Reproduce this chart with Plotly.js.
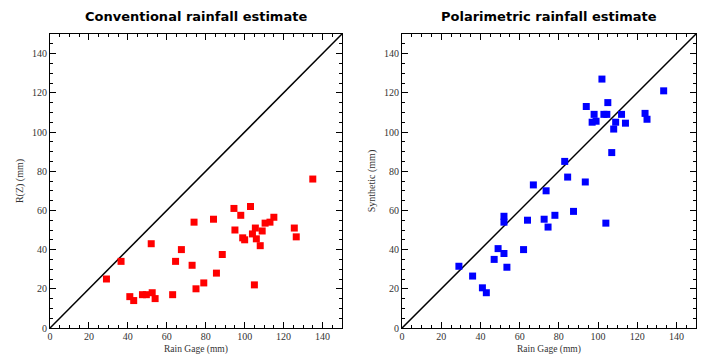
<!DOCTYPE html>
<html>
<head>
<meta charset="utf-8">
<script src="https://cdn.plot.ly/plotly-3.0.1.min.js"></script>
<style>html,body{margin:0;padding:0;background:#fff;}#chart{width:701px;height:354px;}</style>
</head>
<body>
<div id="chart"></div>
<script>
// Conventional R(Z) estimate vs rain gage
const convGage = [29, 36.5, 41, 43, 47.5, 49.5, 52.5, 54, 52, 63, 64.5, 67.5, 73, 74, 75, 79, 84, 85.5, 88.5, 94.5, 95, 98, 99, 100, 103, 104, 105.5, 106, 105, 108, 109, 110.5, 113, 115, 125.5, 126.5, 135];
const convEst  = [25, 34, 16, 14, 17, 17, 18, 15, 43, 17, 34, 40, 32, 54, 20, 23, 55.5, 28, 37.5, 61, 50, 57.5, 46, 45, 62, 48, 51, 45.5, 22, 42, 49.5, 53.5, 54, 56.5, 51, 46.5, 76];
// Polarimetric synthetic estimate vs rain gage
const polGage = [29, 36, 41, 43, 47, 49, 52, 52, 52, 53.5, 62, 64, 67, 72.5, 73.5, 74.5, 78, 83, 84.5, 87.5, 93.5, 94, 97, 98, 99, 102, 103, 104, 104.5, 105, 107, 108, 109, 112, 114, 124, 125, 133.5];
const polEst  = [31.5, 26.5, 20.5, 18, 35, 40.5, 57, 54, 38, 31, 40, 55, 73, 55.5, 70, 51.5, 57.5, 85, 77, 59.5, 74.5, 113, 105, 109, 105.5, 127, 109, 53.5, 109, 115, 89.5, 101.5, 105, 109, 104.5, 109.5, 106.5, 121];
const oneToOne = [0, 150];
const titles = ["Conventional rainfall estimate", "Polarimetric rainfall estimate"];
const xLabel = "Rain Gage (mm)";
const yLabels = ["R(Z) (mm)", "Synthetic (mm)"];
const tickVals = [0, 20, 40, 60, 80, 100, 120, 140];

const serif = "Liberation Serif, Times New Roman, serif";
const markerStyle = (c) => ({symbol: "square", size: 7, color: c});

const traces = [
  {x: oneToOne, y: oneToOne, xaxis: "x", yaxis: "y", mode: "lines", line: {color: "#000", width: 1.5}, hoverinfo: "skip"},
  {x: convGage, y: convEst, xaxis: "x", yaxis: "y", mode: "markers", marker: markerStyle("#ff0000")},
  {x: oneToOne, y: oneToOne, xaxis: "x2", yaxis: "y2", mode: "lines", line: {color: "#000", width: 1.5}, hoverinfo: "skip"},
  {x: polGage, y: polEst, xaxis: "x2", yaxis: "y2", mode: "markers", marker: markerStyle("#0000ff")}
];

function ax(extra) {
  return Object.assign({
    range: [0, 150], tickvals: tickVals, ticks: "inside", ticklen: 6, tickwidth: 1, tickcolor: "#000",
    showline: true, linecolor: "#000", linewidth: 1, mirror: "allticks", showgrid: false, zeroline: false,
    minor: {dtick: 5, tick0: 0, ticks: "inside", ticklen: 3, tickcolor: "#000", showgrid: false},
    tickfont: {family: serif, size: 10, color: "#333"}, automargin: false
  }, extra);
}

const titleFont = {family: "DejaVu Sans, Arial, sans-serif", size: 13, color: "#000"};
const labFont = {family: serif, size: 10, color: "#333"};
const xLabFont = {family: serif, size: 9.5, color: "#333"};

const layout = {
  width: 701, height: 354,
  margin: {l: 50, r: 5, t: 34, b: 26},
  paper_bgcolor: "#fff", plot_bgcolor: "#fff",
  showlegend: false,
  xaxis: ax({domain: [0, 0.452], anchor: "y", ticklabelstandoff: -1}),
  yaxis: ax({domain: [0, 1], anchor: "x", title: {text: yLabels[0], font: labFont, standoff: 6}}),
  xaxis2: ax({domain: [0.545, 1], anchor: "y2", ticklabelstandoff: -1}),
  yaxis2: ax({domain: [0, 1], anchor: "x2", title: {text: yLabels[1], font: labFont, standoff: 6}}),
  annotations: [
    {text: "<b>" + titles[0] + "</b>", xref: "x domain", yref: "paper", x: 0.5, y: 1, yshift: 18, showarrow: false,
     font: titleFont, xanchor: "center", yanchor: "middle"},
    {text: "<b>" + titles[1] + "</b>", xref: "x2 domain", yref: "paper", x: 0.5, y: 1, yshift: 18, showarrow: false,
     font: titleFont, xanchor: "center", yanchor: "middle"},
    {text: xLabel, xref: "x domain", yref: "paper", x: 0.5, y: 0, yshift: -21.5, showarrow: false,
     font: xLabFont, xanchor: "center", yanchor: "middle"},
    {text: xLabel, xref: "x2 domain", yref: "paper", x: 0.5, y: 0, yshift: -21.5, showarrow: false,
     font: xLabFont, xanchor: "center", yanchor: "middle"}
  ]
};

Plotly.newPlot("chart", traces, layout, {displayModeBar: false, staticPlot: true});
</script>
</body>
</html>
